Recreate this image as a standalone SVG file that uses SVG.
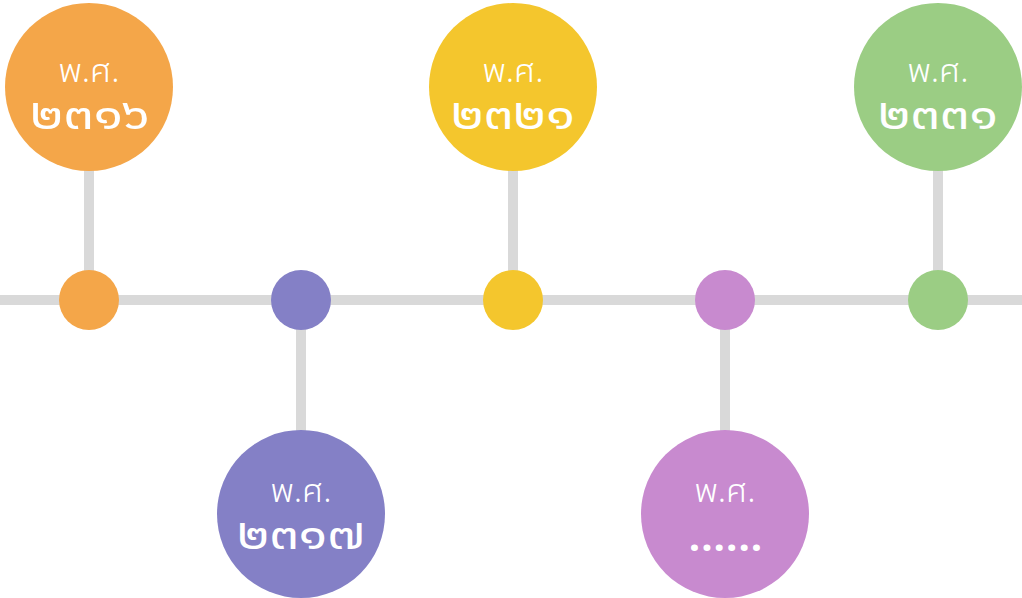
<svg xmlns="http://www.w3.org/2000/svg" width="1022" height="598" viewBox="0 0 1022 598">
<style>
.ln{stroke:#d9d9d9;stroke-width:10;fill:none}
.lbl{font-family:"Noto Sans Thai UI","Noto Sans Thai","Noto Sans",sans-serif;fill:#ffffff;text-anchor:middle}
.t1{font-size:34px;font-weight:300}
.t2{font-size:43px;font-weight:400}
.t3{font-size:40px;font-weight:700;letter-spacing:1px}
</style>
<rect width="1022" height="598" fill="#ffffff"/>
<g id="connectors">
<line class="ln" x1="0" y1="300" x2="1022" y2="300"/>
<line class="ln" x1="89" y1="160" x2="89" y2="280"/>
<line class="ln" x1="513" y1="160" x2="513" y2="280"/>
<line class="ln" x1="938" y1="160" x2="938" y2="280"/>
<line class="ln" x1="301" y1="320" x2="301" y2="440"/>
<line class="ln" x1="725" y1="320" x2="725" y2="440"/>
</g>
<g id="dot1"><circle cx="89" cy="300" r="30" fill="#F4A649"/></g>
<g id="dot2"><circle cx="301" cy="300" r="30" fill="#8480C6"/></g>
<g id="dot3"><circle cx="513" cy="300" r="30" fill="#F4C62D"/></g>
<g id="dot4"><circle cx="725" cy="300" r="30" fill="#C88ACF"/></g>
<g id="dot5"><circle cx="938" cy="300" r="30" fill="#9BCD84"/></g>
<g id="n1"><circle cx="89" cy="87" r="84" fill="#F4A649"/>
<text class="lbl t1" x="89" y="82">พ.ศ.</text><text class="lbl t2" x="90" y="129" textLength="120" lengthAdjust="spacingAndGlyphs">๒๓๑๖</text></g>
<g id="n2"><circle cx="301" cy="514" r="84" fill="#8480C6"/>
<text class="lbl t1" x="301" y="502">พ.ศ.</text><text class="lbl t2" x="301" y="549" textLength="128" lengthAdjust="spacingAndGlyphs">๒๓๑๗</text></g>
<g id="n3"><circle cx="513" cy="87" r="84" fill="#F4C62D"/>
<text class="lbl t1" x="513" y="82">พ.ศ.</text><text class="lbl t2" x="513" y="129" textLength="124" lengthAdjust="spacingAndGlyphs">๒๓๒๑</text></g>
<g id="n4"><circle cx="725" cy="514" r="84" fill="#C88ACF"/>
<text class="lbl t1" x="725" y="502">พ.ศ.</text><text class="lbl t3" x="726" y="551">......</text></g>
<g id="n5"><circle cx="938" cy="87" r="84" fill="#9BCD84"/>
<text class="lbl t1" x="938" y="82">พ.ศ.</text><text class="lbl t2" x="938" y="129" textLength="120" lengthAdjust="spacingAndGlyphs">๒๓๓๑</text></g>
</svg>
